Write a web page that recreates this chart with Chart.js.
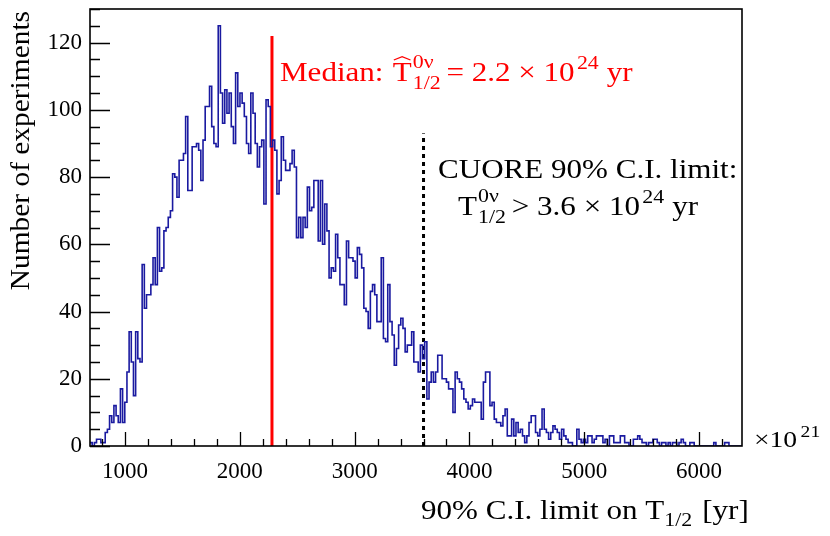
<!DOCTYPE html>
<html>
<head>
<meta charset="utf-8">
<script src="https://cdn.jsdelivr.net/npm/chart.js@4.4.1/dist/chart.umd.min.js"></script>
<style>
  html, body { margin: 0; padding: 0; background: #fff; }
</style>
</head>
<body>
<canvas id="chart" width="830" height="536"></canvas>
<script>
// histogram binning (x in units of 1e21 yr)
const binLow = 695;
const binWidth = 18.93;

// number of experiments per bin
const counts = [
  1, 0, 1, 2, 2, 1, 1, 4, 5, 9,
  7, 12, 9, 7, 17, 7, 13, 22, 34, 25,
  15, 34, 26, 25, 54, 41, 45, 45, 48, 56,
  48, 65, 52, 53, 64, 65, 68, 70, 81, 80,
  74, 85, 85, 87, 98, 76, 76, 89, 89, 90,
  88, 79, 91, 101, 101, 107, 95, 90, 89, 125,
  105, 96, 106, 99, 105, 95, 90, 111, 101, 105,
  102, 98, 90, 87, 105, 99, 90, 83, 89, 91,
  72, 103, 101, 89, 91, 88, 75, 79, 92, 85,
  82, 82, 84, 88, 83, 62, 68, 62, 68, 65,
  77, 70, 71, 79, 79, 61, 79, 60, 72, 64,
  50, 53, 52, 63, 56, 48, 48, 42, 61, 56,
  56, 55, 50, 59, 57, 53, 41, 40, 35, 46,
  48, 45, 37, 37, 56, 32, 31, 48, 37, 33,
  24, 29, 36, 38, 35, 28, 30, 30, 34, 25,
  25, 22, 30, 26, 31, 14, 19, 22, 19, 22,
  27, 27, 20, 20, 19, 17, 17, 10, 22, 20,
  19, 17, 14, 13, 11, 12, 14, 13, 13, 13,
  8, 19, 22, 22, 12, 13, 8, 7, 7, 6,
  9, 11, 3, 3, 8, 3, 7, 4, 5, 3,
  1, 3, 7, 9, 9, 4, 3, 5, 11, 5,
  4, 2, 4, 6, 5, 4, 2, 5, 3, 2,
  1, 1, 0, 0, 5, 2, 1, 2, 1, 3,
  3, 1, 2, 3, 3, 3, 1, 2, 0, 3,
  3, 1, 1, 1, 3, 3, 1, 1, 0, 0,
  2, 2, 3, 2, 1, 1, 0, 1, 1, 2,
  2, 1, 0, 1, 1, 0, 1, 0, 1, 1,
  0, 1, 2, 1, 0, 0, 1, 1, 0, 0,
  0, 0, 0, 0, 0, 0, 0, 1, 0, 0,
  0, 0, 1, 1, 0, 0, 0, 0, 0, 0
];

const xTicks = [1000, 2000, 3000, 4000, 5000, 6000];
const yTicks = [0, 20, 40, 60, 80, 100, 120];
const yMax = 130;

// vertical markers
const medianValue = 2280;
const medianTop = 122;
const cuoreValue = 3600;
const cuoreTop = 93;

const SERIF = "'Liberation Serif', 'Times New Roman', serif";
const f = (s) => s + "px " + SERIF;
const WIDEN = 1.15; // reference uses a wider TeX-like face

const xMax = binLow + counts.length * binWidth;
const histPoints = counts.map((c, i) => ({ x: binLow + i * binWidth, y: c }));
histPoints.push({ x: xMax, y: counts[counts.length - 1] });

// draw a run of text pieces (plain, raised/lowered, or stacked sup/sub)
function drawRich(ctx, x, y, parts, color) {
  ctx.save();
  ctx.translate(x, y);
  ctx.scale(WIDEN, 1);
  ctx.fillStyle = color;
  ctx.strokeStyle = color;
  ctx.textAlign = "left";
  ctx.textBaseline = "alphabetic";
  let cx = 0;
  parts.forEach((p) => {
    if (p.gap) { cx += p.gap; }
    if (p.sup !== undefined) {
      ctx.font = f(p.s);
      const w1 = ctx.measureText(p.sup).width;
      const w2 = ctx.measureText(p.sub).width;
      ctx.fillText(p.sup, cx, p.supDy);
      ctx.fillText(p.sub, cx, p.subDy);
      cx += Math.max(w1, w2);
      return;
    }
    ctx.font = f(p.s);
    const w = ctx.measureText(p.t).width;
    ctx.fillText(p.t, cx, p.dy || 0);
    if (p.hat) {
      ctx.lineWidth = 1.1;
      ctx.beginPath();
      ctx.moveTo(cx + 1, -p.s * 0.78);
      ctx.lineTo(cx + w / 2, -p.s * 0.9);
      ctx.lineTo(cx + w - 1, -p.s * 0.78);
      ctx.stroke();
    }
    cx += w;
  });
  ctx.restore();
}

const rootFrame = {
  id: "rootFrame",
  afterDatasetsDraw(chart) {
    const ctx = chart.ctx;
    const a = chart.chartArea;
    const xs = chart.scales.x;
    const ys = chart.scales.y;
    ctx.save();
    ctx.strokeStyle = "#000";
    ctx.lineWidth = 1.3;
    ctx.beginPath();
    for (let v = 800; v <= 6200; v += 200) {
      const px = Math.round(xs.getPixelForValue(v)) + 0.5;
      const len = v % 1000 === 0 ? 14 : 7;
      ctx.moveTo(px, a.bottom);
      ctx.lineTo(px, a.bottom - len);
    }
    for (let v = 0; v <= yMax; v += 5) {
      const py = Math.round(ys.getPixelForValue(v)) + 0.5;
      const len = v % 20 === 0 ? 20 : 10;
      ctx.moveTo(a.left, py);
      ctx.lineTo(a.left + len, py);
    }
    ctx.stroke();
    ctx.lineWidth = 1.6;
    ctx.strokeRect(a.left, a.top, a.right - a.left, a.bottom - a.top);
    ctx.restore();
  },
  afterDraw(chart) {
    const ctx = chart.ctx;
    const a = chart.chartArea;

    // y title
    ctx.save();
    ctx.translate(29, 11);
    ctx.rotate(-Math.PI / 2);
    ctx.scale(1.05, 1);
    ctx.font = f(28);
    ctx.fillStyle = "#000";
    ctx.textAlign = "right";
    ctx.textBaseline = "alphabetic";
    ctx.fillText("Number of experiments", 0, 0);
    ctx.restore();

    // x title
    drawRich(ctx, 421, 519, [
      { t: "90% C.I. limit on T", s: 27 },
      { t: "1/2", s: 19, dy: 7 },
      { t: " [yr]", s: 27, gap: 2 }
    ], "#000");

    // axis exponent
    drawRich(ctx, a.right + 12, 447, [
      { t: "\u00d710", s: 24 },
      { t: "21", s: 17, dy: -10, gap: 3 }
    ], "#000");

    // median label
    drawRich(ctx, 280, 81, [
      { t: "Median:", s: 27 },
      { t: "T", s: 27, hat: true, gap: 8 },
      { sup: "0\u03bd", sub: "1/2", s: 19, supDy: -13, subDy: 8, gap: 1 },
      { t: "= 2.2 \u00d7 10", s: 27, gap: 5 },
      { t: "24", s: 19, dy: -12, gap: 2 },
      { t: "yr", s: 27, gap: 7 }
    ], "#ff0000");

    // CUORE limit label
    drawRich(ctx, 438, 178, [
      { t: "CUORE 90% C.I. limit:", s: 27 }
    ], "#000");
    drawRich(ctx, 458, 215, [
      { t: "T", s: 27 },
      { sup: "0\u03bd", sub: "1/2", s: 19, supDy: -13, subDy: 8, gap: 1 },
      { t: "> 3.6 \u00d7 10", s: 27, gap: 5 },
      { t: "24", s: 19, dy: -12, gap: 2 },
      { t: "yr", s: 27, gap: 7 }
    ], "#000");
  }
};

const ctx = document.getElementById("chart").getContext("2d");

const myChart = new Chart(ctx, {
  type: "line",
  data: {
    datasets: [
      {
        label: "experiments",
        data: histPoints,
        stepped: true,
        borderColor: "#1a1aa0",
        borderWidth: 1.6,
        pointRadius: 0,
        fill: false,
      },
      {
        label: "median",
        data: [{ x: medianValue, y: 0 }, { x: medianValue, y: medianTop }],
        borderColor: "#ff0000",
        borderWidth: 3,
        pointRadius: 0,
        fill: false,
      },
      {
        label: "cuore",
        data: [{ x: cuoreValue, y: 0 }, { x: cuoreValue, y: cuoreTop }],
        borderColor: "#000",
        borderWidth: 3,
        borderDash: [4, 4],
        pointRadius: 0,
        fill: false,
      },
    ],
  },
  options: {
    responsive: false,
    animation: false,
    events: [],
    layout: { padding: { top: 9, right: 88, left: 0, bottom: 0 } },
    plugins: {
      legend: { display: false },
      tooltip: { enabled: false },
    },
    scales: {
      x: {
        type: "linear",
        min: binLow,
        max: xMax,
        grid: { display: false, drawTicks: false },
        border: { display: false },
        afterBuildTicks: (axis) => {
          axis.ticks = xTicks.map((v) => ({ value: v }));
        },
        afterFit: (axis) => {
          axis.height = 90;
          axis.paddingLeft = 0;
          axis.paddingRight = 0;
        },
        ticks: {
          color: "#000",
          font: { family: SERIF, size: 23 },
          padding: 12,
          maxRotation: 0,
          autoSkip: false,
          callback: (v) => String(v),
        },
      },
      y: {
        type: "linear",
        min: 0,
        max: yMax,
        grid: { display: false, drawTicks: false },
        border: { display: false },
        afterBuildTicks: (axis) => {
          axis.ticks = yTicks.map((v) => ({ value: v }));
        },
        afterFit: (axis) => {
          axis.width = 90;
          axis.paddingTop = 0;
          axis.paddingBottom = 0;
        },
        ticks: {
          color: "#000",
          font: { family: SERIF, size: 23 },
          padding: 8,
          autoSkip: false,
          callback: (v) => String(v),
        },
      },
    },
  },
  plugins: [rootFrame],
});
</script>
</body>
</html>
